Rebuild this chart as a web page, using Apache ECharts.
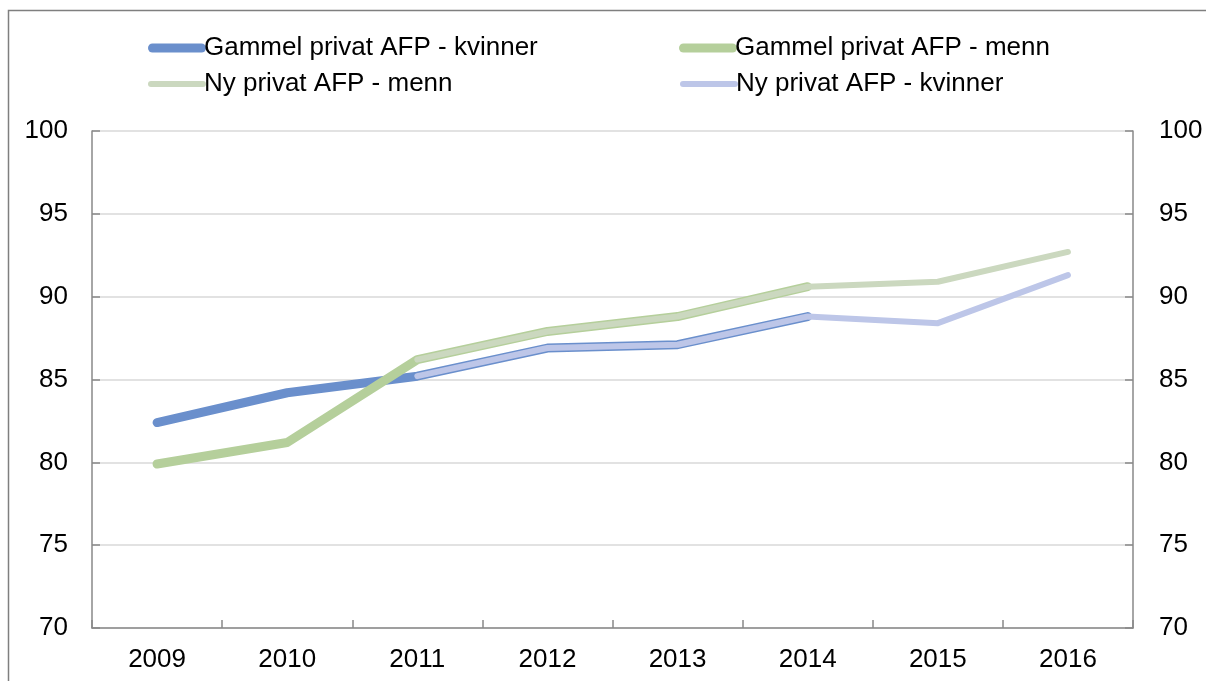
<!DOCTYPE html>
<html>
<head>
<meta charset="utf-8">
<script src="https://cdn.jsdelivr.net/npm/echarts@6/dist/echarts.min.js"></script>
<style>
  html, body { margin: 0; padding: 0; background: #fff; }
  #chart { width: 1206px; height: 681px; }
</style>
</head>
<body>
<div id="chart"></div>
<script>
// år
var years = ['2009', '2010', '2011', '2012', '2013', '2014', '2015', '2016'];

// serier (null = ingen verdi)
var gammelKvinner = [82.4, 84.2, 85.2, 86.9, 87.1, 88.8, null, null];
var gammelMenn = [79.9, 81.2, 86.2, 87.9, 88.8, 90.6, null, null];
var nyMenn = [null, null, 86.2, 87.9, 88.8, 90.6, 90.9, 92.7];
var nyKvinner = [null, null, 85.2, 86.9, 87.1, 88.8, 88.4, 91.3];

var names = ['Gammel privat AFP - kvinner', 'Gammel privat AFP - menn', 'Ny privat AFP - menn', 'Ny privat AFP - kvinner'];
var colors = ['#6a8fcc', '#b5cf9b', '#cbd8bf', '#bdc6e8'];

// akse
var yMin = 70, yMax = 100, yStep = 5;

var FONT = 'Liberation Sans, Arial, sans-serif';
var thick = 'path://M4.5,0 L53.5,0 A4.5,4.5 0 0 1 53.5,9 L4.5,9 A4.5,4.5 0 0 1 4.5,0 Z';
var thin = 'path://M3,0 L55,0 A3,3 0 0 1 55,6 L3,6 A3,3 0 0 1 3,0 Z';

//en legend per element, så tykkelsen kan variere
function legendItem(name, left, top, h, icon) {
    return {
        data: [name],
        left: left,
        top: top,
        itemWidth: 58,
        itemHeight: h,
        icon: icon,
        itemGap: 0,
        selectedMode: false,
        textStyle: { fontFamily: FONT, fontSize: 26, color: '#000', padding: [0, 0, 0, -7] }
    };
}

function valueAxis(pos) {
    return {
        type: 'value',
        position: pos,
        min: yMin,
        max: yMax,
        interval: yStep,
        axisLine: { show: true, lineStyle: { color: '#898989', width: 1.5 } },
        axisTick: { show: true, inside: true, length: 8, lineStyle: { color: '#898989', width: 1.5 } },
        axisLabel: { color: '#000', fontFamily: FONT, fontSize: 26, margin: pos === 'left' ? 24 : 26 },
        splitLine: { show: pos === 'left', lineStyle: { color: '#d9d9d9', width: 1.5 } }
    };
}

function lineSeries(name, data, color, width, yIdx) {
    return {
        name: name,
        type: 'line',
        yAxisIndex: yIdx,
        data: data,
        symbol: 'none',
        animation: false,
        color: color,
        lineStyle: { color: color, width: width, cap: 'round', join: 'round' }
    };
}

var Chart = echarts.init(document.getElementById('chart'));
Chart.setOption({
    backgroundColor: '#fff',
    animation: false,
    graphic: [{
        type: 'rect',
        shape: { x: 8.5, y: 10.5, width: 1400, height: 900 },
        style: { fill: 'none', stroke: '#7f7f7f', lineWidth: 1.5 },
        silent: true
    }],
    legend: [
        legendItem(names[0], 143, 30, 9, thick),
        legendItem(names[1], 674, 30, 9, thick),
        legendItem(names[2], 143, 66, 6, thin),
        legendItem(names[3], 675, 66, 6, thin)
    ],
    grid: { left: 92, right: 73, top: 131, bottom: 53 },
    xAxis: {
        type: 'category',
        data: years,
        boundaryGap: true,
        axisLine: { lineStyle: { color: '#898989', width: 1.5 } },
        axisTick: { show: true, inside: true, length: 8, lineStyle: { color: '#898989', width: 1.5 } },
        axisLabel: { color: '#000', fontFamily: FONT, fontSize: 26, margin: 19 }
    },
    yAxis: [valueAxis('left'), valueAxis('right')],
    series: [
        lineSeries(names[0], gammelKvinner, colors[0], 9, 0),
        lineSeries(names[1], gammelMenn, colors[1], 9, 0),
        lineSeries(names[2], nyMenn, colors[2], 6, 0),
        lineSeries(names[3], nyKvinner, colors[3], 6, 0)
    ]
});
</script>
</body>
</html>
